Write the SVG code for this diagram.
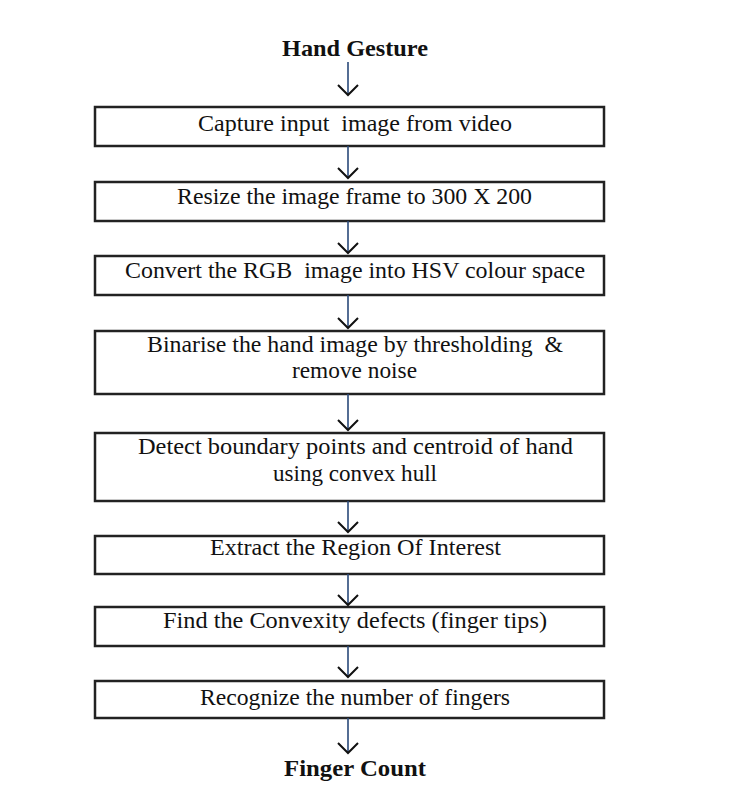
<svg xmlns="http://www.w3.org/2000/svg" width="732" height="810" viewBox="0 0 732 810">
<defs>
<style>
.box{fill:#fff;stroke:#222;stroke-width:2.5}
.t{font-family:"Liberation Serif","Times New Roman",serif;font-size:23px;fill:#111;white-space:pre}
.h{font-family:"Liberation Serif","Times New Roman",serif;font-size:23px;font-weight:bold;fill:#111}
.ln{stroke:#2b4a7a;stroke-width:1.6;fill:none}
.hd{stroke:#111;stroke-width:2;fill:none}
</style>
</defs>
<rect width="732" height="810" fill="#fff"/>
<g id="start"><text class="h" x="282" y="56" textLength="146" lengthAdjust="spacingAndGlyphs">Hand Gesture</text></g>
<g id="n1"><rect class="box" x="95" y="107" width="509" height="39"/><text class="t" x="198" y="131" textLength="314" lengthAdjust="spacingAndGlyphs">Capture input  image from video</text></g>
<g id="n2"><rect class="box" x="95" y="182" width="509" height="39"/><text class="t" x="177" y="204" textLength="355" lengthAdjust="spacingAndGlyphs">Resize the image frame to 300 X 200</text></g>
<g id="n3"><rect class="box" x="95" y="256" width="509" height="39"/><text class="t" x="125" y="278" textLength="460" lengthAdjust="spacingAndGlyphs">Convert the RGB  image into HSV colour space</text></g>
<g id="n4"><rect class="box" x="95" y="331" width="509" height="63"/><text class="t" x="147" y="352" textLength="416" lengthAdjust="spacingAndGlyphs">Binarise the hand image by thresholding  &amp;</text><text class="t" x="292" y="378" textLength="125" lengthAdjust="spacingAndGlyphs">remove noise</text></g>
<g id="n5"><rect class="box" x="95" y="433" width="509" height="68"/><text class="t" x="138" y="454" textLength="435" lengthAdjust="spacingAndGlyphs">Detect boundary points and centroid of hand</text><text class="t" x="273" y="481" textLength="164" lengthAdjust="spacingAndGlyphs">using convex hull</text></g>
<g id="n6"><rect class="box" x="95" y="536" width="509" height="38"/><text class="t" x="210" y="555" textLength="291" lengthAdjust="spacingAndGlyphs">Extract the Region Of Interest</text></g>
<g id="n7"><rect class="box" x="95" y="607" width="509" height="39"/><text class="t" x="163" y="628" textLength="384" lengthAdjust="spacingAndGlyphs">Find the Convexity defects (finger tips)</text></g>
<g id="n8"><rect class="box" x="95" y="681" width="509" height="37"/><text class="t" x="200" y="705" textLength="310" lengthAdjust="spacingAndGlyphs">Recognize the number of fingers</text></g>
<g id="end"><text class="h" x="284" y="776" textLength="142" lengthAdjust="spacingAndGlyphs">Finger Count</text></g>
<g id="connectors">
<path class="ln" d="M348 62V95M348 146V178M348 221V253M348 295V328M348 394V430M348 501V532M348 574V605M348 646V677M348 718V753"/>
<path class="hd" d="M338 85L348 95L358 85M338 168L348 178L358 168M338 243L348 253L358 243M338 318L348 328L358 318M338 420L348 430L358 420M338 522L348 532L358 522M338 595L348 605L358 595M338 667L348 677L358 667M338 743L348 753L358 743"/>
</g>
</svg>
